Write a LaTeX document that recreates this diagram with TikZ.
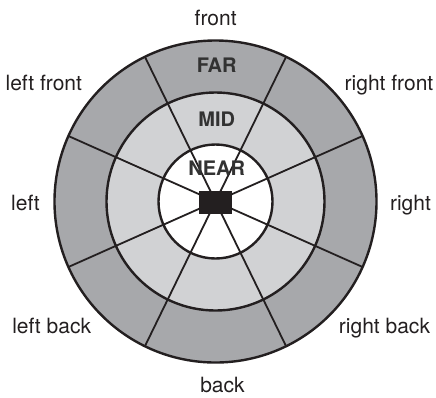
\documentclass[tikz,border=0pt]{standalone}
\usepackage{fontspec}
\setmainfont{TeX Gyre Heros}
\usetikzlibrary{calc}
\definecolor{ringfar}{RGB}{167,168,171}
\definecolor{ringmid}{RGB}{209,210,212}
\definecolor{ink}{RGB}{35,31,32}
\definecolor{zonetext}{RGB}{50,50,50}
\begin{document}
\begin{tikzpicture}[x=1pt,y=-1pt,
  ringline/.style={draw=ink,line width=2.4pt},
  ray/.style={draw=ink,line width=1.8pt},
  dirlabel/.style={font=\fontsize{21}{25}\selectfont,text=ink,inner sep=0pt,anchor=base},
  zonelabel/.style={font=\fontsize{20}{24}\selectfont\bfseries,text=zonetext,inner sep=0pt,anchor=base}]
\useasboundingbox (0,0) rectangle (436,397);
\coordinate (c) at (215.5,201.5);
% rings
\fill[ringfar] (c) circle[radius=161pt];
\fill[ringmid] (c) circle[radius=109pt];
\fill[white] (c) circle[radius=57pt];
% radial dividers
\foreach \a in {24,64,116,156}
  \draw[ray] ($(c)+(\a:161pt)$) -- ($(c)+(\a+180:161pt)$);
% ring outlines
\draw[ringline] (c) circle[radius=161pt];
\draw[ringline] (c) circle[radius=109pt];
\draw[ringline] (c) circle[radius=57pt];
% listener
\node[fill=ink,minimum width=33pt,minimum height=23pt,inner sep=0pt] (box) at (215.5,202.5) {};
% zone labels
\node[zonelabel] (far) at (216.7,72.3) {FAR};
\node[zonelabel] (mid) at (216.7,126.7) {MID};
\node[zonelabel] (near) at (216.7,175) {NEAR};
% direction labels
\node[dirlabel] (front) at (215.7,25.7) {front};
\node[dirlabel] (lfront) at (43.8,90.7) {left front};
\node[dirlabel] (rfront) at (389,90.7) {right front};
\node[dirlabel] (left) at (25.5,210) {left};
\node[dirlabel] (right) at (410.5,210) {right};
\node[dirlabel] (lback) at (51.7,333) {left back};
\node[dirlabel] (rback) at (384.5,333) {right back};
\node[dirlabel] (back) at (222.5,392.5) {back};
\end{tikzpicture}
\end{document}
